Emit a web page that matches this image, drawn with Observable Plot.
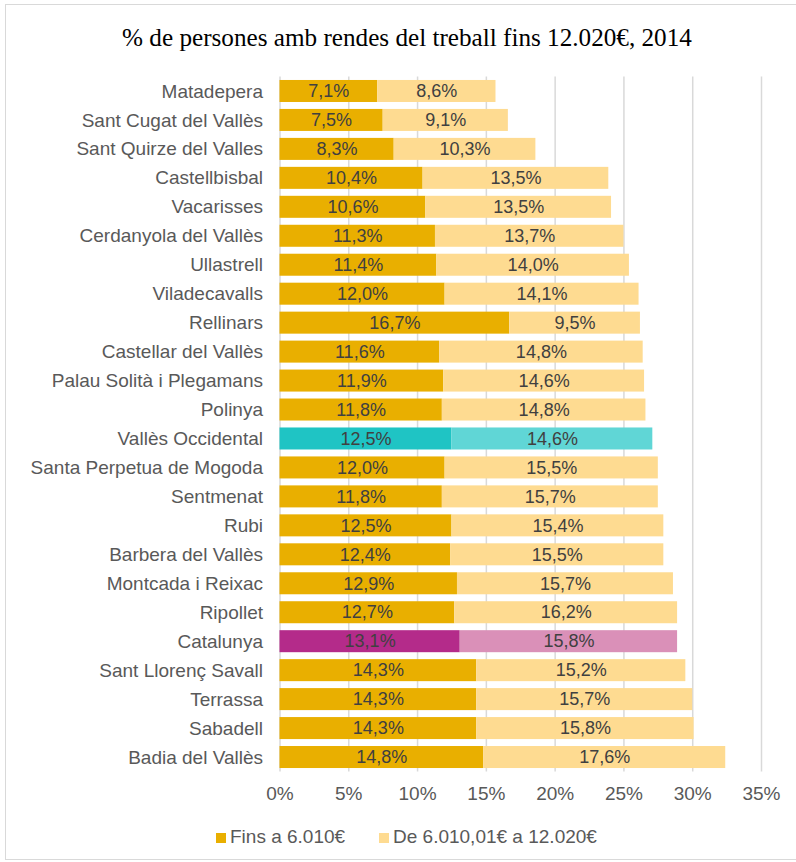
<!DOCTYPE html>
<html>
<head>
<meta charset="utf-8">
<script src="https://cdn.jsdelivr.net/npm/d3@7"></script>
<script src="https://cdn.jsdelivr.net/npm/@observablehq/plot@0.6"></script>
<style>
  html, body { margin: 0; padding: 0; background: #fff; }
  #wrap { position: relative; width: 796px; height: 862px; overflow: hidden; font-family: "Liberation Sans", Arial, sans-serif; }
  #frame { position: absolute; left: 5px; top: 4px; width: 800px; height: 856px; border: 1px solid #d9d9d9; box-sizing: border-box; }
  #title { position: absolute; left: 0; top: 25px; white-space: nowrap; font-family: "Liberation Serif", "DejaVu Serif", serif; font-size: 25px; color: #000; }
  #legend { position: absolute; top: 826px; left: 0; width: 796px; font-size: 19px; color: #595959; }
  .sw { position: absolute; width: 10px; height: 10px; top: 7px; }
  .lt { position: absolute; top: 0; line-height: 22px; white-space: nowrap; }
  #chart { position: absolute; left: 0; top: 0; }
</style>
</head>
<body>
<div id="wrap">
  <div id="frame"></div>
  <div id="title">% de persones amb rendes del treball fins 12.020€, 2014</div>
  <div id="chart"></div>
  <div id="legend"></div>
</div>
<script>
const categories = [
  "Matadepera", "Sant Cugat del Vallès", "Sant Quirze del Valles", "Castellbisbal",
  "Vacarisses", "Cerdanyola del Vallès", "Ullastrell", "Viladecavalls", "Rellinars",
  "Castellar del Vallès", "Palau Solità i Plegamans", "Polinya", "Vallès Occidental",
  "Santa Perpetua de Mogoda", "Sentmenat", "Rubi", "Barbera del Vallès",
  "Montcada i Reixac", "Ripollet", "Catalunya", "Sant Llorenç Savall", "Terrassa",
  "Sabadell", "Badia del Vallès"
];
const fins6010 = [7.1, 7.5, 8.3, 10.4, 10.6, 11.3, 11.4, 12.0, 16.7, 11.6, 11.9, 11.8, 12.5,
  12.0, 11.8, 12.5, 12.4, 12.9, 12.7, 13.1, 14.3, 14.3, 14.3, 14.8];
const de6010a12020 = [8.6, 9.1, 10.3, 13.5, 13.5, 13.7, 14.0, 14.1, 9.5, 14.8, 14.6, 14.8, 14.6,
  15.5, 15.7, 15.4, 15.5, 15.7, 16.2, 15.8, 15.2, 15.7, 15.8, 17.6];
const seriesNames = ["Fins a 6.010€", "De 6.010,01€ a 12.020€"];
const xTicks = [0, 5, 10, 15, 20, 25, 30, 35];

const palette = {
  normal: ["#E9AF00", "#FEDB91"],
  "Vallès Occidental": ["#1FC4C4", "#60D6D6"],
  "Catalunya": ["#B42B8A", "#DA90B8"]
};

const fmt = v => v.toFixed(1).replace(".", ",") + "%";

const rows = [];
categories.forEach((c, i) => {
  const cols = palette[c] || palette.normal;
  const a = fins6010[i], b = de6010a12020[i];
  rows.push({cat: c, x1: 0, x2: a, fill: cols[0], label: fmt(a)});
  rows.push({cat: c, x1: a, x2: a + b, fill: cols[1], label: fmt(b)});
});

const chart = Plot.plot({
  width: 796,
  height: 862,
  marginTop: 76.5,
  marginBottom: 90.5,
  marginLeft: 279.5,
  marginRight: 35,
  style: {fontFamily: "'Liberation Sans', Arial, sans-serif", fontSize: "19px", color: "#595959", background: "transparent"},
  x: {domain: [0, 35]},
  y: {domain: categories, paddingInner: 0.24, paddingOuter: 0.12, round: false},
  color: {type: "identity"},
  marks: [
    Plot.ruleX(xTicks, {stroke: "#d9d9d9", strokeWidth: 1.5}),
    Plot.barX(rows, {x1: "x1", x2: "x2", y: "cat", fill: "fill", insetTop: 0, insetBottom: 0}),
    Plot.text(rows, {x: d => (d.x1 + d.x2) / 2, y: "cat", text: "label", fill: "#404040", fontSize: 18}),
    Plot.axisX(xTicks, {tickSize: 0, tickPadding: 14, tickFormat: d => d + "%", label: null, fontSize: 19}),
    Plot.axisY({tickSize: 0, tickPadding: 17, label: null, fontSize: 19})
  ]
});
document.getElementById("chart").appendChild(chart);

// fit the title to the reference's span (about x = 122 .. 692)
const title = document.getElementById("title");
const w0 = title.getBoundingClientRect().width;
const fs = 25 * 570 / w0;
title.style.fontSize = fs.toFixed(2) + "px";
const w1 = title.getBoundingClientRect().width;
title.style.left = (407 - w1 / 2).toFixed(1) + "px";
title.style.top = (38 - title.getBoundingClientRect().height / 2).toFixed(1) + "px";

const legend = document.getElementById("legend");
const legItems = [
  {name: seriesNames[0], color: palette.normal[0], sx: 216, tx: 230},
  {name: seriesNames[1], color: palette.normal[1], sx: 379, tx: 393}
];
legItems.forEach(it => {
  const s = document.createElement("div");
  s.className = "sw"; s.style.left = it.sx + "px"; s.style.background = it.color;
  const t = document.createElement("div");
  t.className = "lt"; t.style.left = it.tx + "px"; t.textContent = it.name;
  legend.appendChild(s); legend.appendChild(t);
});
</script>
</body>
</html>
